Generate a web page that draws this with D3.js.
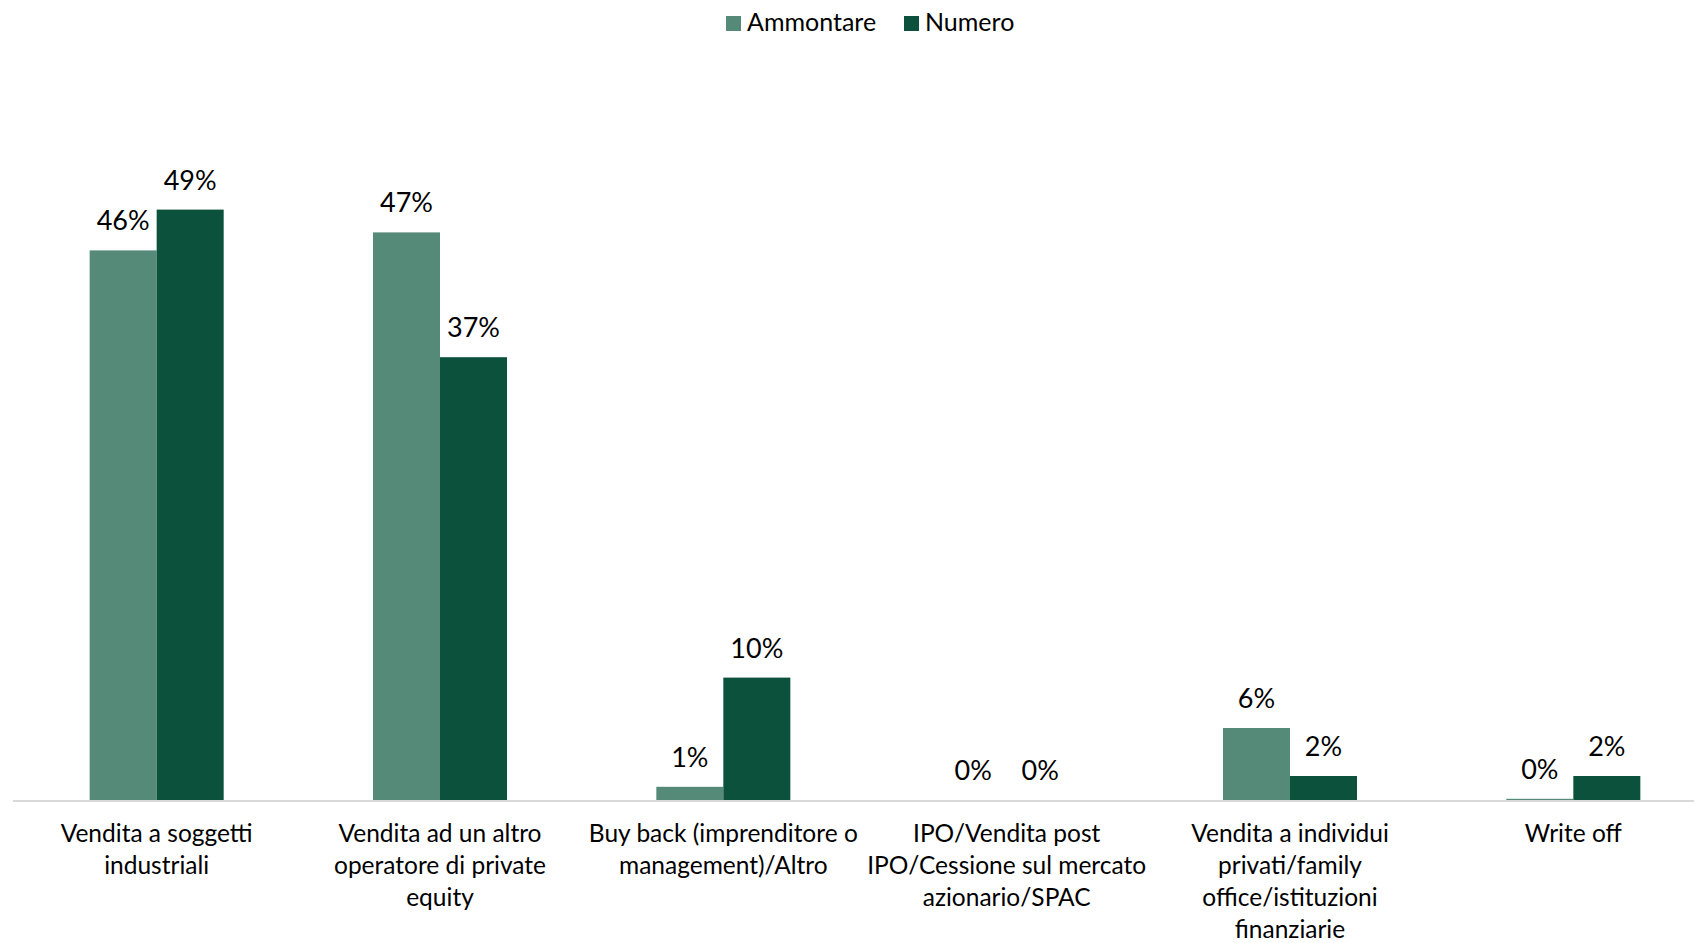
<!DOCTYPE html>
<html>
<head>
<meta charset="utf-8">
<script src="https://cdn.jsdelivr.net/npm/d3@7"></script>
<style>
  html, body { margin: 0; padding: 0; background: #ffffff; }
  svg { display: block; }
  text { font-family: Lato, "Open Sans", sans-serif; fill: #000; }
</style>
</head>
<body>
<svg id="chart" width="1694" height="943"></svg>
<script>
// ---- data ----
const categories = [
  "Vendita a soggetti industriali",
  "Vendita ad un altro operatore di private equity",
  "Buy back (imprenditore o management)/Altro",
  "IPO/Vendita post IPO/Cessione sul mercato azionario/SPAC",
  "Vendita a individui privati/family office/istituzioni finanziarie",
  "Write off"
];
const categoryLines = [
  ["Vendita a soggetti", "industriali"],
  ["Vendita ad un altro", "operatore di private", "equity"],
  ["Buy back (imprenditore o", "management)/Altro"],
  ["IPO/Vendita post", "IPO/Cessione sul mercato", "azionario/SPAC"],
  ["Vendita a individui", "privati/family", "office/istituzioni", "finanziarie"],
  ["Write off"]
];
const seriesNames = ["Ammontare", "Numero"];
const ammontare = [45.8, 47.3, 1.1, 0, 6, 0.1];
const numero = [49.2, 36.9, 10.2, 0, 2, 2];
const ammontareLabels = ["46%", "47%", "1%", "0%", "6%", "0%"];
const numeroLabels = ["49%", "37%", "10%", "0%", "2%", "2%"];
const colors = ["#548a77", "#0b513b"];

// ---- layout ----
const svg = d3.select("#chart");
const baseY = 800;
const y = d3.scaleLinear().domain([0, 50]).range([baseY, 200]);
const x0 = d3.scaleBand().domain(categories).range([15, 1715]).paddingInner(0.527).paddingOuter(0.2635);
const x1 = d3.scaleBand().domain(seriesNames).range([0, x0.bandwidth()]);

const data = categories.map((c, i) => ({
  cat: c,
  lines: categoryLines[i],
  vals: [
    { s: seriesNames[0], v: ammontare[i], lab: ammontareLabels[i], col: colors[0] },
    { s: seriesNames[1], v: numero[i], lab: numeroLabels[i], col: colors[1] }
  ]
}));

// axis line
svg.append("line")
  .attr("x1", 13).attr("x2", 1694)
  .attr("y1", baseY + 1).attr("y2", baseY + 1)
  .attr("stroke", "#d9d9d9").attr("stroke-width", 2);

const g = svg.append("g").selectAll("g").data(data).join("g")
  .attr("transform", d => `translate(${x0(d.cat)},0)`);

g.selectAll("rect").data(d => d.vals).join("rect")
  .attr("x", d => x1(d.s))
  .attr("width", x1.bandwidth())
  .attr("y", d => y(d.v))
  .attr("height", d => baseY - y(d.v))
  .attr("fill", d => d.col);

g.selectAll("text.val").data(d => d.vals).join("text")
  .attr("class", "val")
  .attr("x", d => x1(d.s) + x1.bandwidth() / 2)
  .attr("y", d => y(d.v) - 20)
  .attr("text-anchor", "middle")
  .attr("font-size", 27)
  .text(d => d.lab);

// category labels
const catText = svg.append("g").selectAll("text").data(data).join("text")
  .attr("text-anchor", "middle")
  .attr("font-size", 24.5)
  .attr("x", d => x0(d.cat) + x0.bandwidth() / 2)
  .attr("y", 842);
catText.selectAll("tspan").data(d => d.lines).join("tspan")
  .attr("x", function () { return d3.select(this.parentNode).attr("x"); })
  .attr("dy", (d, i) => i === 0 ? 0 : 32)
  .text(d => d);

// legend
const legendItems = [
  { name: seriesNames[0], col: colors[0], x: 726 },
  { name: seriesNames[1], col: colors[1], x: 904 }
];
const lg = svg.append("g").selectAll("g").data(legendItems).join("g")
  .attr("transform", d => `translate(${d.x},16)`);
lg.append("rect").attr("width", 15).attr("height", 15).attr("fill", d => d.col);
lg.append("text").attr("x", 21).attr("y", 15).attr("font-size", 25).text(d => d.name);
</script>
</body>
</html>
